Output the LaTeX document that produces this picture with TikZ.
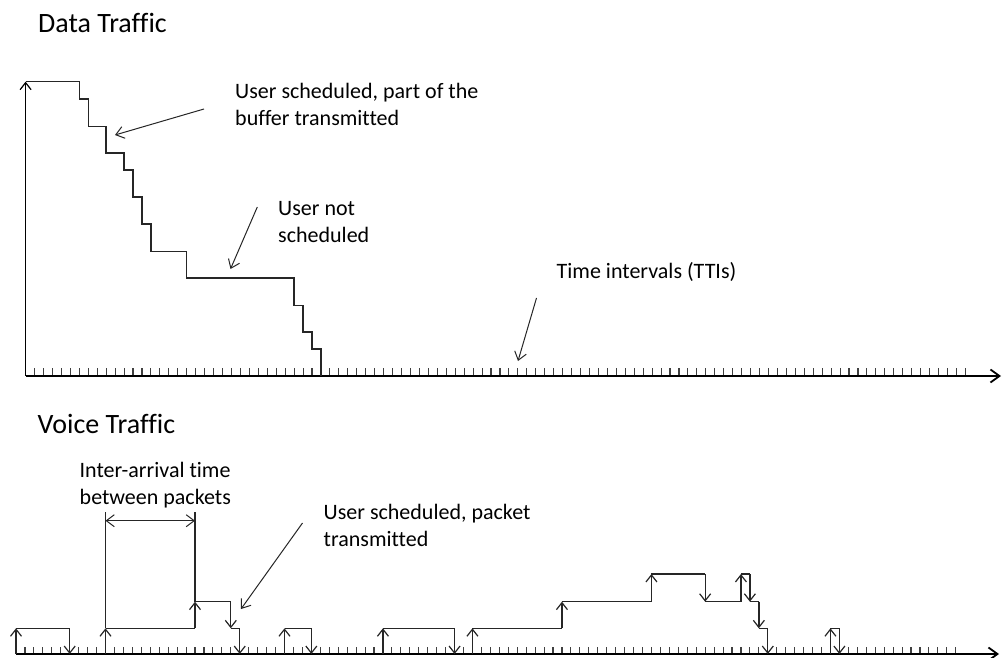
\documentclass[tikz,border=0pt]{standalone}
\usepackage{fontspec}
\setmainfont{Carlito}[Ligatures={NoCommon}]
\usetikzlibrary{arrows.meta}
\begin{document}
\begin{tikzpicture}[x=1pt,y=-1pt,
  axisline/.style={line width=2pt, -{Straight Barb[length=9pt,width=13pt,line width=1.8pt]}},
  yaxis/.style={line width=1.4pt, -{Straight Barb[length=7pt,width=11pt,line width=1.2pt]}},
  tick/.style={line width=1.1pt, color=black!75},
  stair/.style={line width=1.4pt, color=black!85, line join=miter},
  pk/.style={line width=1.3pt, color=black!85, -{Straight Barb[length=7pt,width=11pt,line width=1.2pt]}},
  pl/.style={line width=1.3pt, color=black!85},
  lblarrow/.style={line width=1pt, color=black!85, -{Straight Barb[length=8pt,width=12pt,line width=1pt]}},
  dim/.style={line width=1pt, color=black!85, {Straight Barb[length=8pt,width=12pt,line width=1pt]}-{Straight Barb[length=8pt,width=12pt,line width=1pt]}},
  title/.style={anchor=base west, inner sep=0pt, font=\fontsize{28}{33}\selectfont},
  lbl/.style={anchor=base west, inner sep=0pt, align=left, font=\fontsize{22}{27}\selectfont}
]
\useasboundingbox (0,0) rectangle (1002,658);

% ---------- Data traffic ----------
\node[title] (dt) at (38,32.7) {Data Traffic};

\coordinate (o1) at (25.6,376);
\coordinate (e1) at (1001,376);
\coordinate (yt) at (25.6,81.7);
\foreach \n in {1,...,105} \draw[tick] ({25.6+8.95*\n},376) -- ++(0,-8);
\draw[axisline] (o1) -- (e1);
\draw[yaxis] (o1) -- (yt);

\draw[stair] (yt) -- (79.3,81.7) -- (79.3,99) -- (88.25,99) -- (88.25,126.7)
  -- (106.15,126.7) -- (106.15,153) -- (124.05,153) -- (124.05,170)
  -- (133,170) -- (133,197) -- (141.95,197) -- (141.95,224)
  -- (150.9,224) -- (150.9,251.7) -- (186.7,251.7) -- (186.7,278)
  -- (294.1,278) -- (294.1,305.7) -- (303.05,305.7) -- (303.05,332)
  -- (312,332) -- (312,349) -- (320.95,349) -- (320.95,376);

\node[lbl] (l1) at (235,126) {User scheduled, part of the\\buffer transmitted};
\coordinate (a1s) at (204,109);
\coordinate (a1e) at (115,135);
\draw[lblarrow] (a1s) -- (a1e);

\node[lbl] (l2) at (278,242) {User not\\scheduled};
\coordinate (a2s) at (257.3,207);
\coordinate (a2e) at (230.5,269);
\draw[lblarrow] (a2s) -- (a2e);

\node[lbl] (l3) at (556.5,278) {Time intervals (TTIs)};
\coordinate (a3s) at (536.5,298);
\coordinate (a3e) at (518,361);
\draw[lblarrow] (a3s) -- (a3e);

% ---------- Voice traffic ----------
\node[title] (vt) at (37.5,433.5) {Voice Traffic};

\coordinate (o2) at (16,654);
\coordinate (e2) at (999,654);
\foreach \n in {1,...,105} \draw[tick] ({16+8.95*\n},654) -- ++(0,-7.5);
\draw[axisline] (o2) -- (e2);

% packet 1
\draw[pk] (16,654) -- (16,628.3);
\draw[pl] (16,628.3) -- (69.7,628.3);
\draw[pk] (69.7,628.3) -- (69.7,654);
% packet 2
\draw[pk] (105.5,654) -- (105.5,628.3);
\draw[pl] (105.5,628.3) -- (195,628.3);
\draw[pk] (195,628.3) -- (195,601.7);
\draw[pl] (195,601.7) -- (230.8,601.7);
\draw[pk] (230.8,601.7) -- (230.8,628.3);
\draw[pl] (230.8,628.3) -- (239.75,628.3);
\draw[pk] (239.75,628.3) -- (239.75,654);
% packet 3
\draw[pk] (284.5,654) -- (284.5,628.3);
\draw[pl] (284.5,628.3) -- (311.35,628.3);
\draw[pk] (311.35,628.3) -- (311.35,654);
% packet 4
\draw[pk] (382.95,654) -- (382.95,628.3);
\draw[pl] (382.95,628.3) -- (454.55,628.3);
\draw[pk] (454.55,628.3) -- (454.55,654);
% packet 5
\draw[pk] (472.45,654) -- (472.45,628.3);
\draw[pl] (472.45,628.3) -- (561.95,628.3);
\draw[pk] (561.95,628.3) -- (561.95,601.7);
\draw[pl] (561.95,601.7) -- (651.45,601.7);
\draw[pk] (651.45,601.7) -- (651.45,574);
\draw[pl] (651.45,574) -- (705.15,574);
\draw[pk] (705.15,574) -- (705.15,601.7);
\draw[pl] (705.15,601.7) -- (740.95,601.7);
\draw[pk] (740.95,601.7) -- (740.95,574);
\draw[pl] (740.95,574) -- (749.9,574);
\draw[pk] (749.9,574) -- (749.9,601.7);
\draw[pl] (749.9,601.7) -- (758.85,601.7);
\draw[pk] (758.85,601.7) -- (758.85,628.3);
\draw[pl] (758.85,628.3) -- (767.8,628.3);
\draw[pk] (767.8,628.3) -- (767.8,654);
% packet 6
\draw[pk] (830.45,654) -- (830.45,628.3);
\draw[pl] (830.45,628.3) -- (839.4,628.3);
\draw[pk] (839.4,628.3) -- (839.4,654);

% inter-arrival dimension
\coordinate (d1) at (105.5,511.7);
\coordinate (d2) at (195,511.7);
\draw[pl] (105.5,628.3) -- (d1);
\draw[pl] (195,601.7) -- (d2);
\draw[dim] (105.5,520.7) -- (195,520.7);

\node[lbl] (l4) at (79.5,504.5) {Inter-arrival time\\between packets};
\node[lbl] (l5) at (323.5,546) {User scheduled, packet\\transmitted};
\coordinate (a5s) at (302.5,523);
\coordinate (a5e) at (241,609);
\draw[lblarrow] (a5s) -- (a5e);
\end{tikzpicture}
\end{document}
